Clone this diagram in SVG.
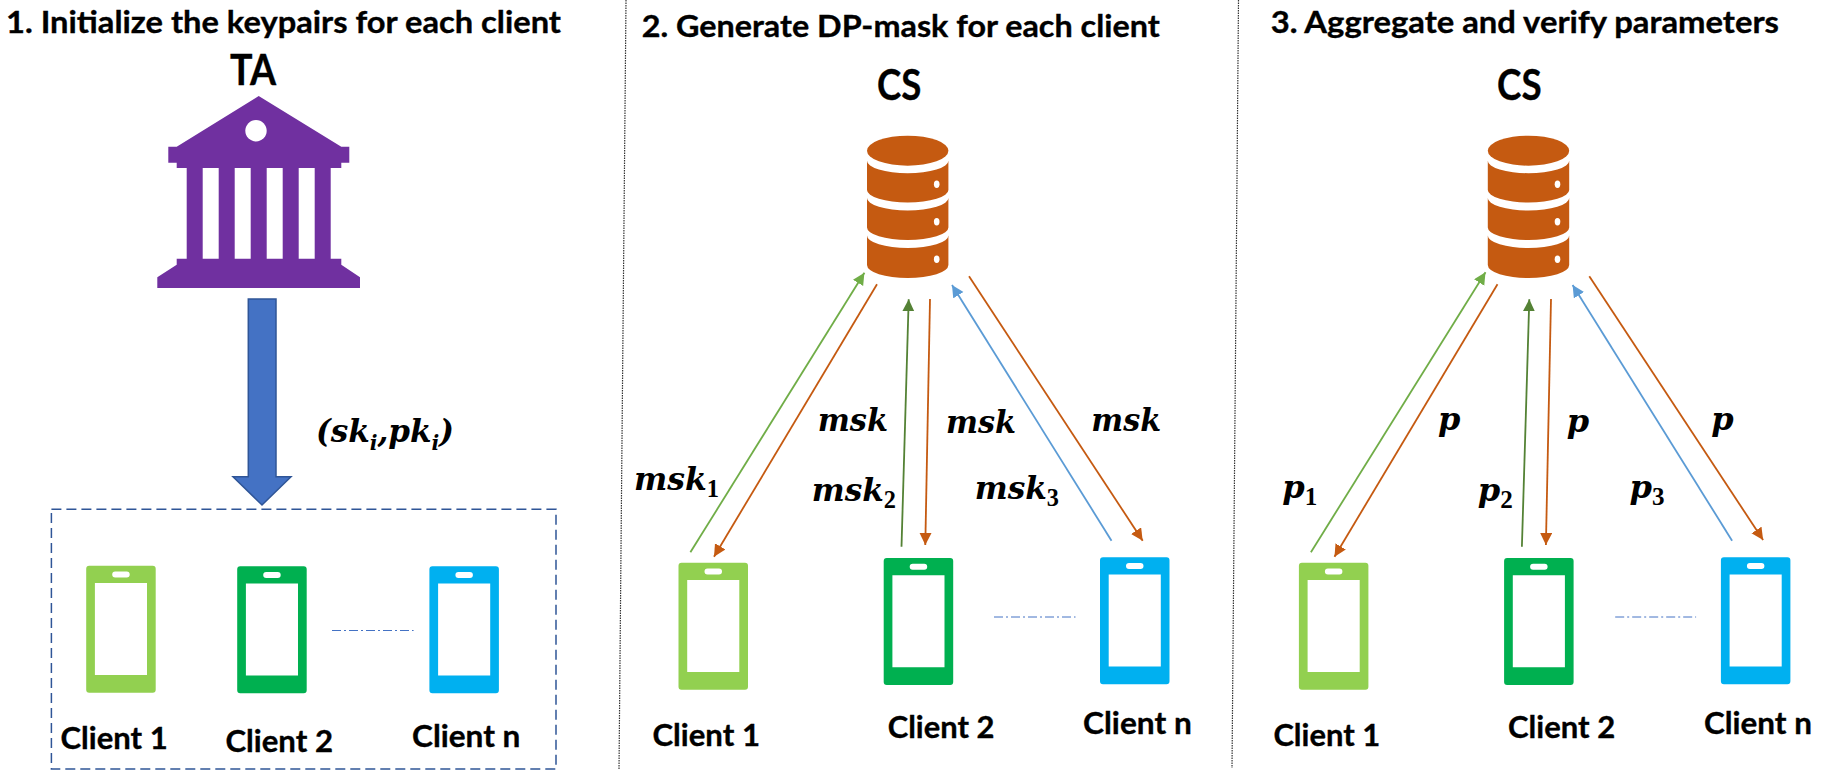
<svg xmlns="http://www.w3.org/2000/svg" width="1837" height="781" viewBox="0 0 1837 781">
<style>
text{fill:#000;stroke:#000;stroke-width:.35;font-family:"Lato","Noto Sans","Liberation Sans",sans-serif;font-weight:700}
.title{font-size:31px}
.big{font-size:42px}
.cl{font-size:30px}
.m{font-family:"DejaVu Serif","Liberation Serif",serif;font-style:italic;font-weight:700;font-size:32px;stroke-width:0}
.s{font-family:"Liberation Serif",serif;font-size:25px;font-style:normal}
.si{font-size:21px}
.c{fill:none;stroke-width:1.8}
.lg{stroke:#70AD47}.dg{stroke:#548235}.bl{stroke:#5B9BD5}.or{stroke:#C55A11}
.dot{fill:none;stroke:#333;stroke-width:1.2;stroke-dasharray:1.5 1}
.dd{fill:none;stroke:#4472C4;stroke-width:1;stroke-dasharray:9 3 2 3}
.g1{fill:#92D050}.g2{fill:#00B050}.g3{fill:#00B0F0}
</style>
<defs>
<path id="phone" fill-rule="evenodd" d="M3 0H66.5A3 3 0 0 1 69.5 3V124A3 3 0 0 1 66.5 127H3A3 3 0 0 1 0 124V3A3 3 0 0 1 3 0ZM8.7 17.3V109.3H60.8V17.3ZM29 5.7A3 3 0 0 0 29 11.7H40.5A3 3 0 0 0 40.5 5.7Z"/>
<g id="db" fill="#C55A11">
<ellipse cx="40.7" cy="15" rx="40.7" ry="15"/>
<path d="M0 25A40.7 12.5 0 0 0 81.4 25V54.3A40.7 12.5 0 0 1 0 54.3Z"/>
<path d="M0 62.3A40.7 12.5 0 0 0 81.4 62.3V91.8A40.7 12.5 0 0 1 0 91.8Z"/>
<path d="M0 99.8A40.7 12.5 0 0 0 81.4 99.8V129.3A40.7 13 0 0 1 0 129.3Z"/>
<ellipse cx="69.7" cy="48.6" rx="2.8" ry="3.7" fill="#fff"/>
<ellipse cx="69.7" cy="86" rx="2.8" ry="3.7" fill="#fff"/>
<ellipse cx="69.7" cy="123.6" rx="2.8" ry="3.7" fill="#fff"/>
</g>
<marker id="h-lg" markerUnits="userSpaceOnUse" markerWidth="14" markerHeight="14" refX="12" refY="6" orient="auto"><path d="M0 0L12 6L0 12Z" fill="#70AD47"/></marker>
<marker id="h-dg" markerUnits="userSpaceOnUse" markerWidth="14" markerHeight="14" refX="12" refY="6" orient="auto"><path d="M0 0L12 6L0 12Z" fill="#548235"/></marker>
<marker id="h-bl" markerUnits="userSpaceOnUse" markerWidth="14" markerHeight="14" refX="12" refY="6" orient="auto"><path d="M0 0L12 6L0 12Z" fill="#5B9BD5"/></marker>
<marker id="h-or" markerUnits="userSpaceOnUse" markerWidth="14" markerHeight="14" refX="12" refY="6" orient="auto"><path d="M0 0L12 6L0 12Z" fill="#C55A11"/></marker>
</defs>

<g id="dividers">
<line class="dot" x1="626" y1="0" x2="619" y2="770"/>
<line class="dot" x1="1238.5" y1="0" x2="1232" y2="768"/>
</g>

<g id="titles">
<text class="title" x="6" y="33" textLength="555" lengthAdjust="spacingAndGlyphs">1. Initialize the keypairs for each client</text>
<text class="title" x="641.7" y="36.5" textLength="518" lengthAdjust="spacingAndGlyphs">2. Generate DP-mask for each client</text>
<text class="title" x="1270.7" y="33.3" textLength="508.3" lengthAdjust="spacingAndGlyphs">3. Aggregate and verify parameters</text>
</g>

<g id="ta">
<text class="big" x="230" y="85" textLength="46" lengthAdjust="spacingAndGlyphs">TA</text>
<path fill="#7030A0" fill-rule="evenodd" d="M258.7 96L341.3 146.7H349.3V162.7H341.3V168H330.7V258.7H341.3V264.7L360 277.3V288H157.3V277.3L176.7 264.7V258.7H186.7V168H176.7V162.7H168.3V146.7H176.7ZM202.7 168V258.7H218.7V168ZM234.7 168V258.7H250.7V168ZM266.7 168V258.7H282.7V168ZM298.7 168V258.7H314.7V168Z"/>
<circle cx="256" cy="130.7" r="10.7" fill="#fff"/>
</g>

<g id="cs-2">
<text class="big" x="877" y="100" textLength="44.3" lengthAdjust="spacingAndGlyphs">CS</text>
<use href="#db" x="867" y="135.7"/>
</g>
<g id="cs-3">
<text class="big" x="1497.1" y="100" textLength="44.5" lengthAdjust="spacingAndGlyphs">CS</text>
<use href="#db" x="1487.8" y="135.7"/>
</g>

<g id="clients-box">
<rect x="51.4" y="509.3" width="504.6" height="259.7" fill="none" stroke="#2F5597" stroke-width="1.5" stroke-dasharray="10 5"/>
</g>

<g id="p1-client1"><use href="#phone" class="g1" x="86.2" y="565.7"/><text class="cl" x="60.5" y="749.3" textLength="107.2" lengthAdjust="spacingAndGlyphs">Client 1</text></g>
<g id="p1-client2"><use href="#phone" class="g2" x="237.2" y="566.3"/><text class="cl" x="225.4" y="751.7" textLength="107.6" lengthAdjust="spacingAndGlyphs">Client 2</text></g>
<g id="p1-clientn"><use href="#phone" class="g3" x="429.4" y="566.3"/><text class="cl" x="412" y="746.7" textLength="108.4" lengthAdjust="spacingAndGlyphs">Client n</text></g>

<g id="p2-client1"><use href="#phone" class="g1" x="678.5" y="562.7"/><text class="cl" x="652.4" y="746" textLength="107.6" lengthAdjust="spacingAndGlyphs">Client 1</text></g>
<g id="p2-client2"><use href="#phone" class="g2" x="883.7" y="558"/><text class="cl" x="887.7" y="737.7" textLength="106.8" lengthAdjust="spacingAndGlyphs">Client 2</text></g>
<g id="p2-clientn"><use href="#phone" class="g3" x="1100" y="557.3"/><text class="cl" x="1083" y="734" textLength="108.8" lengthAdjust="spacingAndGlyphs">Client n</text></g>

<g id="p3-client1"><use href="#phone" class="g1" x="1298.9" y="562.7"/><text class="cl" x="1273.4" y="746" textLength="106.8" lengthAdjust="spacingAndGlyphs">Client 1</text></g>
<g id="p3-client2"><use href="#phone" class="g2" x="1504.1" y="558"/><text class="cl" x="1508" y="737.7" textLength="107.2" lengthAdjust="spacingAndGlyphs">Client 2</text></g>
<g id="p3-clientn"><use href="#phone" class="g3" x="1720.9" y="557.3"/><text class="cl" x="1703.9" y="734" textLength="108" lengthAdjust="spacingAndGlyphs">Client n</text></g>

<g id="connectors">
<path d="M248.3 299H276V476.7H291L262 505L233 476.7H248.3Z" fill="#4472C4" stroke="#2F5597" stroke-width="1.5"/>
<line class="dd" x1="332" y1="630.5" x2="413.6" y2="630.5"/>
<line class="dd" x1="994" y1="617" x2="1075.5" y2="617"/>
<line class="dd" x1="1615.2" y1="617" x2="1696.1" y2="617"/>

<line class="c lg" x1="690.4" y1="552.3" x2="864.4" y2="272.7" marker-end="url(#h-lg)"/>
<line class="c or" x1="877" y1="284.3" x2="714" y2="556.7" marker-end="url(#h-or)"/>
<line class="c dg" x1="901.5" y1="546.7" x2="908.7" y2="299.3" marker-end="url(#h-dg)"/>
<line class="c or" x1="930" y1="299" x2="925.3" y2="545" marker-end="url(#h-or)"/>
<line class="c bl" x1="1111.5" y1="540.7" x2="952" y2="285" marker-end="url(#h-bl)"/>
<line class="c or" x1="969" y1="276.3" x2="1142.7" y2="540.7" marker-end="url(#h-or)"/>

<line class="c lg" x1="1310.9" y1="552.3" x2="1485.5" y2="272.3" marker-end="url(#h-lg)"/>
<line class="c or" x1="1497.5" y1="284.3" x2="1334.5" y2="556.7" marker-end="url(#h-or)"/>
<line class="c dg" x1="1521.9" y1="546.7" x2="1529.3" y2="299.3" marker-end="url(#h-dg)"/>
<line class="c or" x1="1551" y1="299" x2="1545.9" y2="545" marker-end="url(#h-or)"/>
<line class="c bl" x1="1732.1" y1="540.7" x2="1572.6" y2="285" marker-end="url(#h-bl)"/>
<line class="c or" x1="1589.3" y1="276.3" x2="1763.1" y2="540" marker-end="url(#h-or)"/>
</g>

<g id="labels">
<text class="m" x="316" y="441.7" textLength="138" lengthAdjust="spacingAndGlyphs">(sk<tspan class="si" dy="8">i</tspan><tspan dy="-8">,pk</tspan><tspan class="si" dy="8">i</tspan><tspan dy="-8">)</tspan></text>
<text class="m" x="817.7" y="431" textLength="70.3" lengthAdjust="spacingAndGlyphs">msk</text>
<text class="m" x="946" y="432.7" textLength="70" lengthAdjust="spacingAndGlyphs">msk</text>
<text class="m" x="1091.3" y="431" textLength="69.7" lengthAdjust="spacingAndGlyphs">msk</text>
<text class="m" x="634" y="490" textLength="85" lengthAdjust="spacingAndGlyphs">msk<tspan class="s" dy="7">1</tspan></text>
<text class="m" x="811.8" y="500.7" textLength="84.2" lengthAdjust="spacingAndGlyphs">msk<tspan class="s" dy="7">2</tspan></text>
<text class="m" x="974.7" y="499" textLength="84.3" lengthAdjust="spacingAndGlyphs">msk<tspan class="s" dy="7">3</tspan></text>
<text class="m" x="1437.9" y="430">p</text>
<text class="m" x="1566.8" y="431.7">p</text>
<text class="m" x="1711.2" y="430">p</text>
<text class="m" x="1282.3" y="497.7" textLength="35" lengthAdjust="spacingAndGlyphs">p<tspan class="s" dy="7">1</tspan></text>
<text class="m" x="1477.8" y="500.7" textLength="35" lengthAdjust="spacingAndGlyphs">p<tspan class="s" dy="7">2</tspan></text>
<text class="m" x="1629.5" y="498" textLength="35" lengthAdjust="spacingAndGlyphs">p<tspan class="s" dy="7">3</tspan></text>
</g>
</svg>
